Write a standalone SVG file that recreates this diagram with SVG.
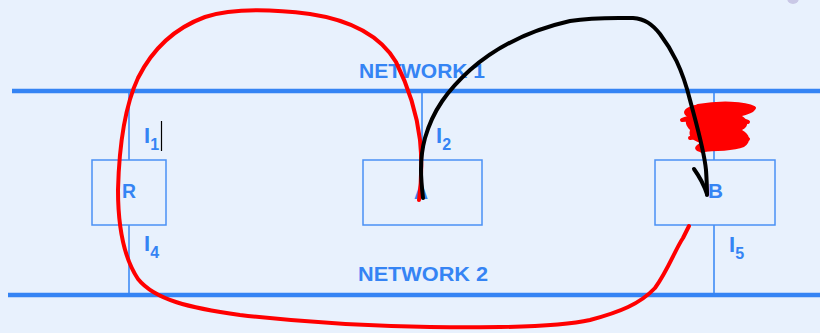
<svg xmlns="http://www.w3.org/2000/svg" width="820" height="333" viewBox="0 0 820 333">
  <style>
    .bus { stroke: #3584f4; stroke-width: 4.5; fill: none; }
    .stub { stroke: #3584f4; stroke-width: 1.5; fill: none; }
    .box { fill: none; stroke: #4a90f5; stroke-width: 1.5; }
    .lbl { font-family: "Liberation Sans", Arial, sans-serif; font-weight: bold; fill: #3584f4; }
    .ink { fill: none; stroke-linecap: round; stroke-linejoin: round; }
    .red { stroke: #ff0000; stroke-width: 4; }
    .black { stroke: #000000; stroke-width: 4; }
  </style>
  <rect width="820" height="333" fill="#e8f1fd"/>
  <circle cx="793" cy="-2" r="6" fill="#c9c8e6"/>

  <!-- networks -->
  <g id="network1">
    <line class="bus" x1="12" y1="91" x2="820" y2="91"/>
    <text class="lbl" x="359" y="78" font-size="21" textLength="126" lengthAdjust="spacingAndGlyphs">NETWORK 1</text>
  </g>
  <g id="network2">
    <line class="bus" x1="8" y1="295" x2="820" y2="295"/>
    <text class="lbl" x="358" y="281" font-size="21" textLength="130" lengthAdjust="spacingAndGlyphs">NETWORK 2</text>
  </g>

  <!-- host R -->
  <g id="R">
    <line class="stub" x1="129" y1="91" x2="129" y2="160"/>
    <line class="stub" x1="129" y1="225" x2="129" y2="295"/>
    <rect class="box" x="92" y="160" width="74" height="65"/>
    <text class="lbl" x="122" y="198" font-size="21" textLength="14" lengthAdjust="spacingAndGlyphs">R</text>
    <text class="lbl" x="144" y="143" font-size="22">I<tspan font-size="16" dy="7">1</tspan></text>
    <text class="lbl" x="144" y="251" font-size="22">I<tspan font-size="16" dy="7">4</tspan></text>
  </g>

  <!-- host A -->
  <g id="A">
    <line class="stub" x1="422" y1="91" x2="422" y2="160"/>
    <rect class="box" x="363" y="160" width="119" height="65"/>
    <text class="lbl" x="414" y="199" font-size="21" textLength="14" lengthAdjust="spacingAndGlyphs">A</text>
    <text class="lbl" x="436" y="143" font-size="22">I<tspan font-size="16" dy="7">2</tspan></text>
  </g>

  <!-- host B -->
  <g id="B">
    <line class="stub" x1="714" y1="91" x2="714" y2="160"/>
    <line class="stub" x1="714" y1="225" x2="714" y2="295"/>
    <rect class="box" x="655" y="160" width="120" height="65"/>
    <text class="lbl" x="708" y="198" font-size="21" textLength="15" lengthAdjust="spacingAndGlyphs">B</text>
    <text class="lbl" x="729" y="252" font-size="22">I<tspan font-size="16" dy="7">5</tspan></text>
  </g>

  <!-- hand-drawn strokes -->
  <g id="connectors">
    <!-- text cursor -->
    <line x1="161.5" y1="121" x2="161.5" y2="151" stroke="#000" stroke-width="1.2"/>
    <!-- red loop from A round R to B -->
    <path class="ink red" d="M419,200 C421,185 422,160 420,140 C417,115 410,90 396,62 C380,35 350,20 310,14 C270,9 230,9 205,17 C175,28 152,50 138,78 C124,108 119,150 118,190 C118,228 124,258 138,279 C155,300 190,308 240,315 C300,322 370,326 430,327 C500,328 560,327 590,320 C620,312 640,304 655,288 C668,270 675,250 683,238 C686,232 688,228 689,226"/>
    <!-- red scribble over B's upper link -->
    <path fill="#ff0000" d="M695,105 C715,102 740,103 754,107 C758,111 750,114 742,116 C748,120 750,126 742,130 C750,134 752,142 744,147 C735,151 715,151 700,152 C693,150 694,146 700,143 C692,140 688,136 690,130 C686,126 684,121 688,117 C682,114 682,108 695,105 Z"/>
    <path class="ink red" stroke-width="4" d="M698,106 C720,102 745,103 754,108 C735,113 700,112 682,120 C705,118 740,117 748,122 M690,138 C712,134 735,134 748,139 C728,144 710,147 702,151"/>
    <!-- black curve from A to B -->
    <path class="ink black" d="M423,198 C421,180 419,160 425,138 C433,110 448,90 470,70 C495,48 530,30 570,21 C595,17 615,18 633,18 C645,19 652,24 660,34 C672,50 682,68 690,100 C698,130 704,150 706,170 C707,185 707,190 707,195"/>
    <path class="ink black" d="M694,169 C699,176 704,185 707,194"/>
  </g>
</svg>
